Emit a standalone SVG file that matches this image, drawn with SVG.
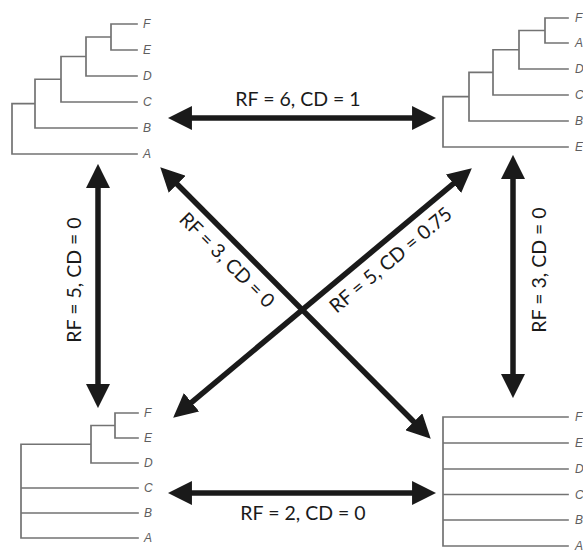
<svg xmlns="http://www.w3.org/2000/svg" width="583" height="552" viewBox="0 0 583 552">
<style>
.br{fill:none;stroke:#737373;stroke-width:1.7;stroke-linecap:square}
.lf{font-family:"Liberation Sans",Arial,sans-serif;font-style:italic;font-size:12px;fill:#5e5e5e}
.ar{stroke:#1a1a1a;stroke-width:5.5;fill:none;marker-start:url(#ah);marker-end:url(#ah)}
.lb{font-family:Lato,"Liberation Sans",sans-serif;font-size:19.5px;fill:#1a1a1a;text-anchor:middle}
</style>
<defs>
<marker id="ah" markerUnits="userSpaceOnUse" markerWidth="24" markerHeight="24" viewBox="0 0 22 22" refX="10" refY="11" orient="auto-start-reverse">
<path d="M0,0 L22,11 L0,22 z" fill="#1a1a1a"/>
</marker>
</defs>
<rect width="583" height="552" fill="#fff"/>
<g id="tree-top-left">
<path class="br" d="M12,154 V103.6 H35 M35,128 V79.25 H61 M61,102 V56.5 H86 M86,76 V37 H111 M111,50 V24 H137 M111,50 H137 M86,76 H137 M61,102 H137 M35,128 H137 M12,154 H137"/>
<text class="lf" x="143" y="28">F</text>
<text class="lf" x="143" y="54">E</text>
<text class="lf" x="143" y="80">D</text>
<text class="lf" x="143" y="106">C</text>
<text class="lf" x="143" y="132">B</text>
<text class="lf" x="143" y="158">A</text>
</g>
<g id="tree-top-right">
<path class="br" d="M443,147 V96.7 H469 M469,121 V72.4 H493 M493,95 V49.75 H519 M519,69 V30.5 H545 M545,43 V18 H568 M545,43 H568 M519,69 H568 M493,95 H568 M469,121 H568 M443,147 H568"/>
<text class="lf" x="575" y="22">F</text>
<text class="lf" x="575" y="47">A</text>
<text class="lf" x="575" y="73">D</text>
<text class="lf" x="575" y="99">C</text>
<text class="lf" x="575" y="125">B</text>
<text class="lf" x="575" y="151">E</text>
</g>
<g id="tree-bottom-left">
<path class="br" d="M21,538 V444.25 H91 M91,463 V425.5 H115 M115,438 V413 H138 M115,438 H138 M91,463 H138 M21,488 H138 M21,513 H138 M21,538 H138"/>
<text class="lf" x="144" y="417">F</text>
<text class="lf" x="144" y="442">E</text>
<text class="lf" x="144" y="467">D</text>
<text class="lf" x="144" y="492">C</text>
<text class="lf" x="144" y="517">B</text>
<text class="lf" x="144" y="542">A</text>
</g>
<g id="tree-bottom-right">
<path class="br" d="M443,546 V417 H568 M443,443 H568 M443,469 H568 M443,494.5 H568 M443,520 H568 M443,546 H568"/>
<text class="lf" x="575" y="421">F</text>
<text class="lf" x="575" y="447">E</text>
<text class="lf" x="575" y="473">D</text>
<text class="lf" x="575" y="498.5">C</text>
<text class="lf" x="575" y="524">B</text>
<text class="lf" x="575" y="550">A</text>
</g>
<g id="connectors">
<line class="ar" x1="181" y1="118" x2="423" y2="118"/>
<line class="ar" x1="181" y1="493" x2="423" y2="493"/>
<line class="ar" x1="98" y1="177" x2="98" y2="395"/>
<line class="ar" x1="513" y1="168" x2="513" y2="385"/>
<line class="ar" x1="169.5" y1="176.5" x2="421.5" y2="429.5"/>
<line class="ar" x1="183.2" y1="409.3" x2="461.8" y2="176.7"/>
</g>
<g id="labels">
<text class="lb" x="298" y="106">RF = 6, CD = 1</text>
<text class="lb" x="303" y="520">RF = 2, CD = 0</text>
<text class="lb" transform="translate(81,280) rotate(-90)">RF = 5, CD = 0</text>
<text class="lb" transform="translate(546,270) rotate(-90)">RF = 3, CD = 0</text>
<text class="lb" transform="translate(240,247) rotate(45)" y="25">RF = 3, CD = 0</text>
<text class="lb" transform="translate(379,246) rotate(-39.9)" y="25">RF = 5, CD = 0.75</text>
</g>
</svg>
